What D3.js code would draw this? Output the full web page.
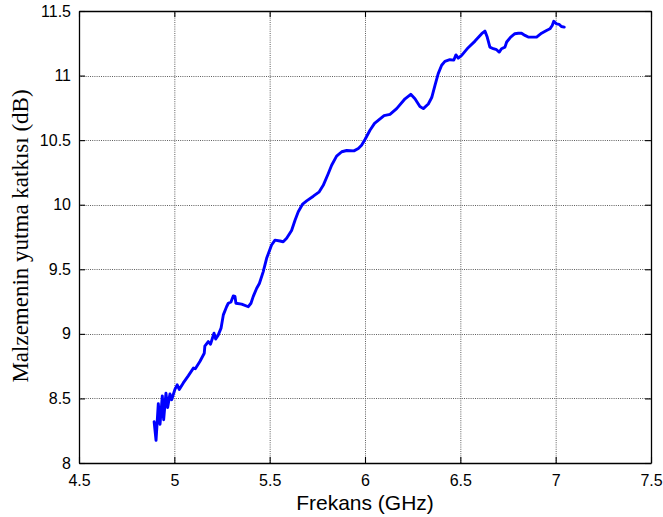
<!DOCTYPE html>
<html>
<head>
<meta charset="utf-8">
<script src="https://cdn.jsdelivr.net/npm/d3@7"></script>
<style>
  html, body { margin: 0; padding: 0; background: #fff; }
  svg { display: block; }
</style>
</head>
<body>
<svg id="chart" width="663" height="517"></svg>
<script>
// Measured absorption of the material vs. frequency
const freqGHz = [
  4.894, 4.904, 4.916, 4.925, 4.937, 4.944, 4.956, 4.965, 4.977, 4.986,
  5.003, 5.015, 5.026, 5.047, 5.073, 5.100, 5.110, 5.134, 5.157, 5.160,
  5.178, 5.190, 5.208, 5.217, 5.230, 5.245, 5.257, 5.274, 5.283, 5.297,
  5.309, 5.318, 5.323, 5.353, 5.388, 5.402, 5.414, 5.432, 5.446, 5.466,
  5.484, 5.510, 5.528, 5.554, 5.571, 5.589, 5.615, 5.633, 5.650, 5.673,
  5.694, 5.729, 5.760, 5.781, 5.807, 5.825, 5.851, 5.878, 5.904, 5.942,
  5.965, 5.982, 6.000, 6.026, 6.050, 6.100, 6.131, 6.166, 6.210, 6.240,
  6.262, 6.288, 6.306, 6.332, 6.350, 6.367, 6.384, 6.402, 6.419, 6.445,
  6.466, 6.477, 6.489, 6.507, 6.541, 6.577, 6.612, 6.629, 6.641, 6.655,
  6.673, 6.690, 6.704, 6.716, 6.734, 6.743, 6.764, 6.786, 6.804, 6.821,
  6.839, 6.856, 6.882, 6.900, 6.926, 6.952, 6.970, 6.982, 6.990, 7.005,
  7.019, 7.030, 7.045
];
const absorptionDb = [
  8.32, 8.175, 8.46, 8.30, 8.52, 8.335, 8.54, 8.43, 8.535, 8.49,
  8.57, 8.605, 8.57, 8.62, 8.675, 8.735, 8.73, 8.786, 8.85, 8.905,
  8.94, 8.92, 9.005, 8.96, 8.99, 9.044, 9.147, 9.21, 9.237, 9.247,
  9.294, 9.29, 9.237, 9.23, 9.21, 9.237, 9.29, 9.353, 9.39, 9.48,
  9.585, 9.688, 9.726, 9.719, 9.713, 9.74, 9.80, 9.88, 9.945, 10.005,
  10.03, 10.066, 10.10, 10.15, 10.24, 10.306, 10.376, 10.41, 10.42, 10.417,
  10.435, 10.46, 10.505, 10.577, 10.63, 10.69, 10.70, 10.744, 10.82, 10.855,
  10.82, 10.76, 10.744, 10.78, 10.83, 10.924, 11.015, 11.08, 11.11, 11.123,
  11.12, 11.16, 11.135, 11.156, 11.216, 11.267, 11.324, 11.344, 11.298, 11.22,
  11.208, 11.20, 11.182, 11.208, 11.22, 11.26, 11.298, 11.324, 11.328, 11.328,
  11.311, 11.298, 11.298, 11.298, 11.328, 11.349, 11.362, 11.388, 11.42, 11.40,
  11.396, 11.38, 11.375
];
const xTicks = [4.5, 5, 5.5, 6, 6.5, 7, 7.5];
const xTickLabels = ["4.5", "5", "5.5", "6", "6.5", "7", "7.5"];
const yTicks = [8, 8.5, 9, 9.5, 10, 10.5, 11, 11.5];
const yTickLabels = ["8", "8.5", "9", "9.5", "10", "10.5", "11", "11.5"];
const xTitle = "Frekans (GHz)";
const yTitle = "Malzemenin yutma katkısı (dB)";

const svg = d3.select("#chart");
const m = { left: 79, right: 663 - 651, top: 11, bottom: 517 - 463 };
const W = 663 - m.left - m.right;
const H = 517 - m.top - m.bottom;

const x = d3.scaleLinear().domain([4.5, 7.5]).range([0, W]);
const y = d3.scaleLinear().domain([8, 11.5]).range([H, 0]);

const g = svg.append("g").attr("transform", `translate(${m.left},${m.top})`);

// dotted grid
const grid = g.append("g").attr("class", "grid");
grid.selectAll("line.gx").data(xTicks.slice(1, -1)).join("line")
  .attr("x1", d => x(d) + 0.5).attr("x2", d => x(d) + 0.5)
  .attr("y1", 0).attr("y2", H);
grid.selectAll("line.gy").data(yTicks.slice(1, -1)).join("line")
  .attr("y1", d => Math.round(y(d)) + 0.5).attr("y2", d => Math.round(y(d)) + 0.5)
  .attr("x1", 0).attr("x2", W);
grid.selectAll("line")
  .attr("stroke", "#5e5e5e").attr("stroke-width", 1)
  .attr("stroke-dasharray", "1,1.2");

// the curve
const line = d3.line().x(d => x(d[0])).y(d => y(d[1])).curve(d3.curveLinear);
g.append("path")
  .datum(freqGHz.map((f, i) => [f, absorptionDb[i]]))
  .attr("fill", "none")
  .attr("stroke", "#0000ff")
  .attr("stroke-width", 2.9)
  .attr("stroke-linejoin", "round")
  .attr("stroke-linecap", "round")
  .attr("d", line);

// box with inward ticks on all four sides
const tickFont = "16px 'Liberation Sans', Arial, sans-serif";
const fmtX = d => xTickLabels[xTicks.indexOf(d)];
const fmtY = d => yTickLabels[yTicks.indexOf(d)];

const axB = g.append("g").attr("transform", `translate(0,${H})`)
  .call(d3.axisBottom(x).tickValues(xTicks).tickFormat(fmtX).tickSizeInner(-6).tickSizeOuter(0).tickPadding(12));
const axT = g.append("g")
  .call(d3.axisTop(x).tickValues(xTicks).tickFormat("").tickSizeInner(-6).tickSizeOuter(0));
const axL = g.append("g")
  .call(d3.axisLeft(y).tickValues(yTicks).tickFormat(fmtY).tickSizeInner(-6).tickSizeOuter(0).tickPadding(8));
const axR = g.append("g").attr("transform", `translate(${W},0)`)
  .call(d3.axisRight(y).tickValues(yTicks).tickFormat("").tickSizeInner(-6).tickSizeOuter(0));

[axB, axT, axL, axR].forEach(a => {
  a.select(".domain").attr("stroke", "#000").attr("stroke-width", 1.3);
  a.selectAll(".tick line").attr("stroke", "#000").attr("stroke-width", 1.1);
  a.selectAll("text").style("font", tickFont).attr("fill", "#000");
});

// axis titles
svg.append("text")
  .attr("x", m.left + W / 2).attr("y", 510)
  .attr("text-anchor", "middle")
  .style("font", "21px 'Liberation Sans', Arial, sans-serif")
  .text(xTitle);

svg.append("text")
  .attr("transform", `translate(28,${m.top + H / 2 - 1}) rotate(-90)`)
  .attr("text-anchor", "middle")
  .style("font", "23px 'Liberation Serif', 'Times New Roman', serif")
  .text(yTitle);
</script>
</body>
</html>
